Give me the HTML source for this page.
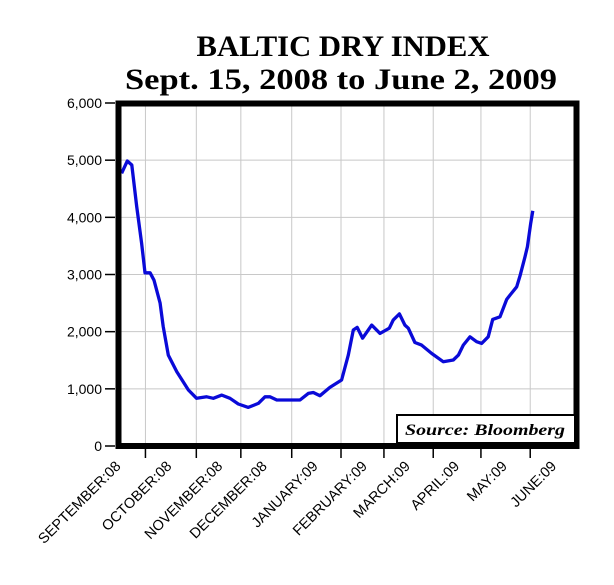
<!DOCTYPE html>
<html><head><meta charset="utf-8"><style>
body{margin:0;background:#fff;}
svg{display:block;}
</style></head><body>
<svg width="614" height="585" xmlns="http://www.w3.org/2000/svg">
<text x="343" y="56" text-anchor="middle" font-family="Liberation Serif, serif" font-weight="bold" font-size="30" textLength="293" lengthAdjust="spacingAndGlyphs">BALTIC DRY INDEX</text>
<text x="341" y="89" text-anchor="middle" font-family="Liberation Serif, serif" font-weight="bold" font-size="30" textLength="432" lengthAdjust="spacingAndGlyphs">Sept. 15, 2008 to June 2, 2009</text>
<g id="grid"></g>
<g id="yaxis"></g>
<g id="xaxis"></g>
<path id="line" fill="none" stroke="#0a0ad8" stroke-width="3.3" stroke-linejoin="round"/>
<rect x="118.5" y="103.5" width="458" height="342.5" fill="none" stroke="#000" stroke-width="6"/>
<rect x="397" y="415" width="178" height="28" fill="#fff" stroke="#000" stroke-width="2"/>
<text x="485" y="435" text-anchor="middle" font-family="Liberation Serif, serif" font-weight="bold" font-style="italic" font-size="16" textLength="160" lengthAdjust="spacingAndGlyphs">Source: Bloomberg</text>
</svg>
<script>
const yTicks=[0,1000,2000,3000,4000,5000,6000];
const yTickLabels=["0","1,000","2,000","3,000","4,000","5,000","6,000"];
const months=["SEPTEMBER:08","OCTOBER:08","NOVEMBER:08","DECEMBER:08","JANUARY:09","FEBRUARY:09","MARCH:09","APRIL:09","MAY:09","JUNE:09"];
const monthDays=[-16,16,48,76,108,139,166,197,227,258];
const days=[1,4.6,7.4,10.5,13.6,15.7,18.9,21.4,25.2,27.2,30.4,35.7,43,48.2,54.5,58.7,64,69.2,74.4,80.7,87,91.2,94.3,98.6,113.2,118.4,121.6,125.8,132,139.4,143.6,146.7,149.2,152.6,158.3,163.5,169.4,171.9,175.7,179.2,181.3,185.5,189.7,196,203.3,209.6,212.8,215.9,220.1,224.3,227.5,231.6,234.4,239,243.2,245.3,249.5,251.6,254.7,256.2,258.3,259.6];
const values=[4770,4985,4915,4190,3550,3030,3030,2900,2500,2090,1590,1300,980,835,860,835,890,835,735,675,745,860,860,805,805,920,935,880,1025,1155,1590,2030,2075,1885,2115,1970,2060,2205,2310,2115,2060,1810,1765,1620,1475,1505,1590,1765,1910,1825,1795,1910,2215,2260,2565,2640,2785,2975,3310,3485,3895,4115];
const NS="http://www.w3.org/2000/svg";
const xS=d=>120+d*1.59;
const yS=v=>446-v*(343/6000);
const grid=document.getElementById('grid'),ya=document.getElementById('yaxis'),xa=document.getElementById('xaxis');
function mk(tag,attrs,parent){const e=document.createElementNS(NS,tag);for(const k in attrs)e.setAttribute(k,attrs[k]);parent.appendChild(e);return e;}
yTicks.forEach((v,i)=>{
  const y=yS(v);
  if(i>0&&i<yTicks.length-1){const g=mk('line',{x1:118,x2:577,y1:y,y2:y,stroke:'#c8c8c8','stroke-width':1},grid);
  
  }
  const t=mk('line',{x1:105,x2:115,y1:y,y2:y,stroke:'#000','stroke-width':1.5},ya);
  
  
  const l=mk('text',{x:102,y:y+5,'text-anchor':'end','font-family':'Liberation Sans, sans-serif','font-size':14},ya);
  l.textContent=yTickLabels[i];
  
  
});
months.forEach((m,i)=>{
  const x=xS(monthDays[i]);
  if(i>0){
    const g=mk('line',{x1:x,x2:x,y1:104,y2:444,stroke:'#c8c8c8','stroke-width':1},grid);
    
    
    const t=mk('line',{x1:x,x2:x,y1:449,y2:458,stroke:'#000','stroke-width':1.5},xa);
    
    
  }
  const lx=x+27,ly=467;
  const l=mk('text',{x:lx,y:ly,'text-anchor':'end','font-family':'Liberation Sans, sans-serif','font-size':14.5,transform:`rotate(-45 ${lx} ${ly})`},xa);
  l.textContent=m;
  
  
});
document.getElementById('line').setAttribute('d',days.map((d,i)=>(i?'L':'M')+xS(d).toFixed(1)+','+yS(values[i]).toFixed(1)).join(''));
</script>
</body></html>
